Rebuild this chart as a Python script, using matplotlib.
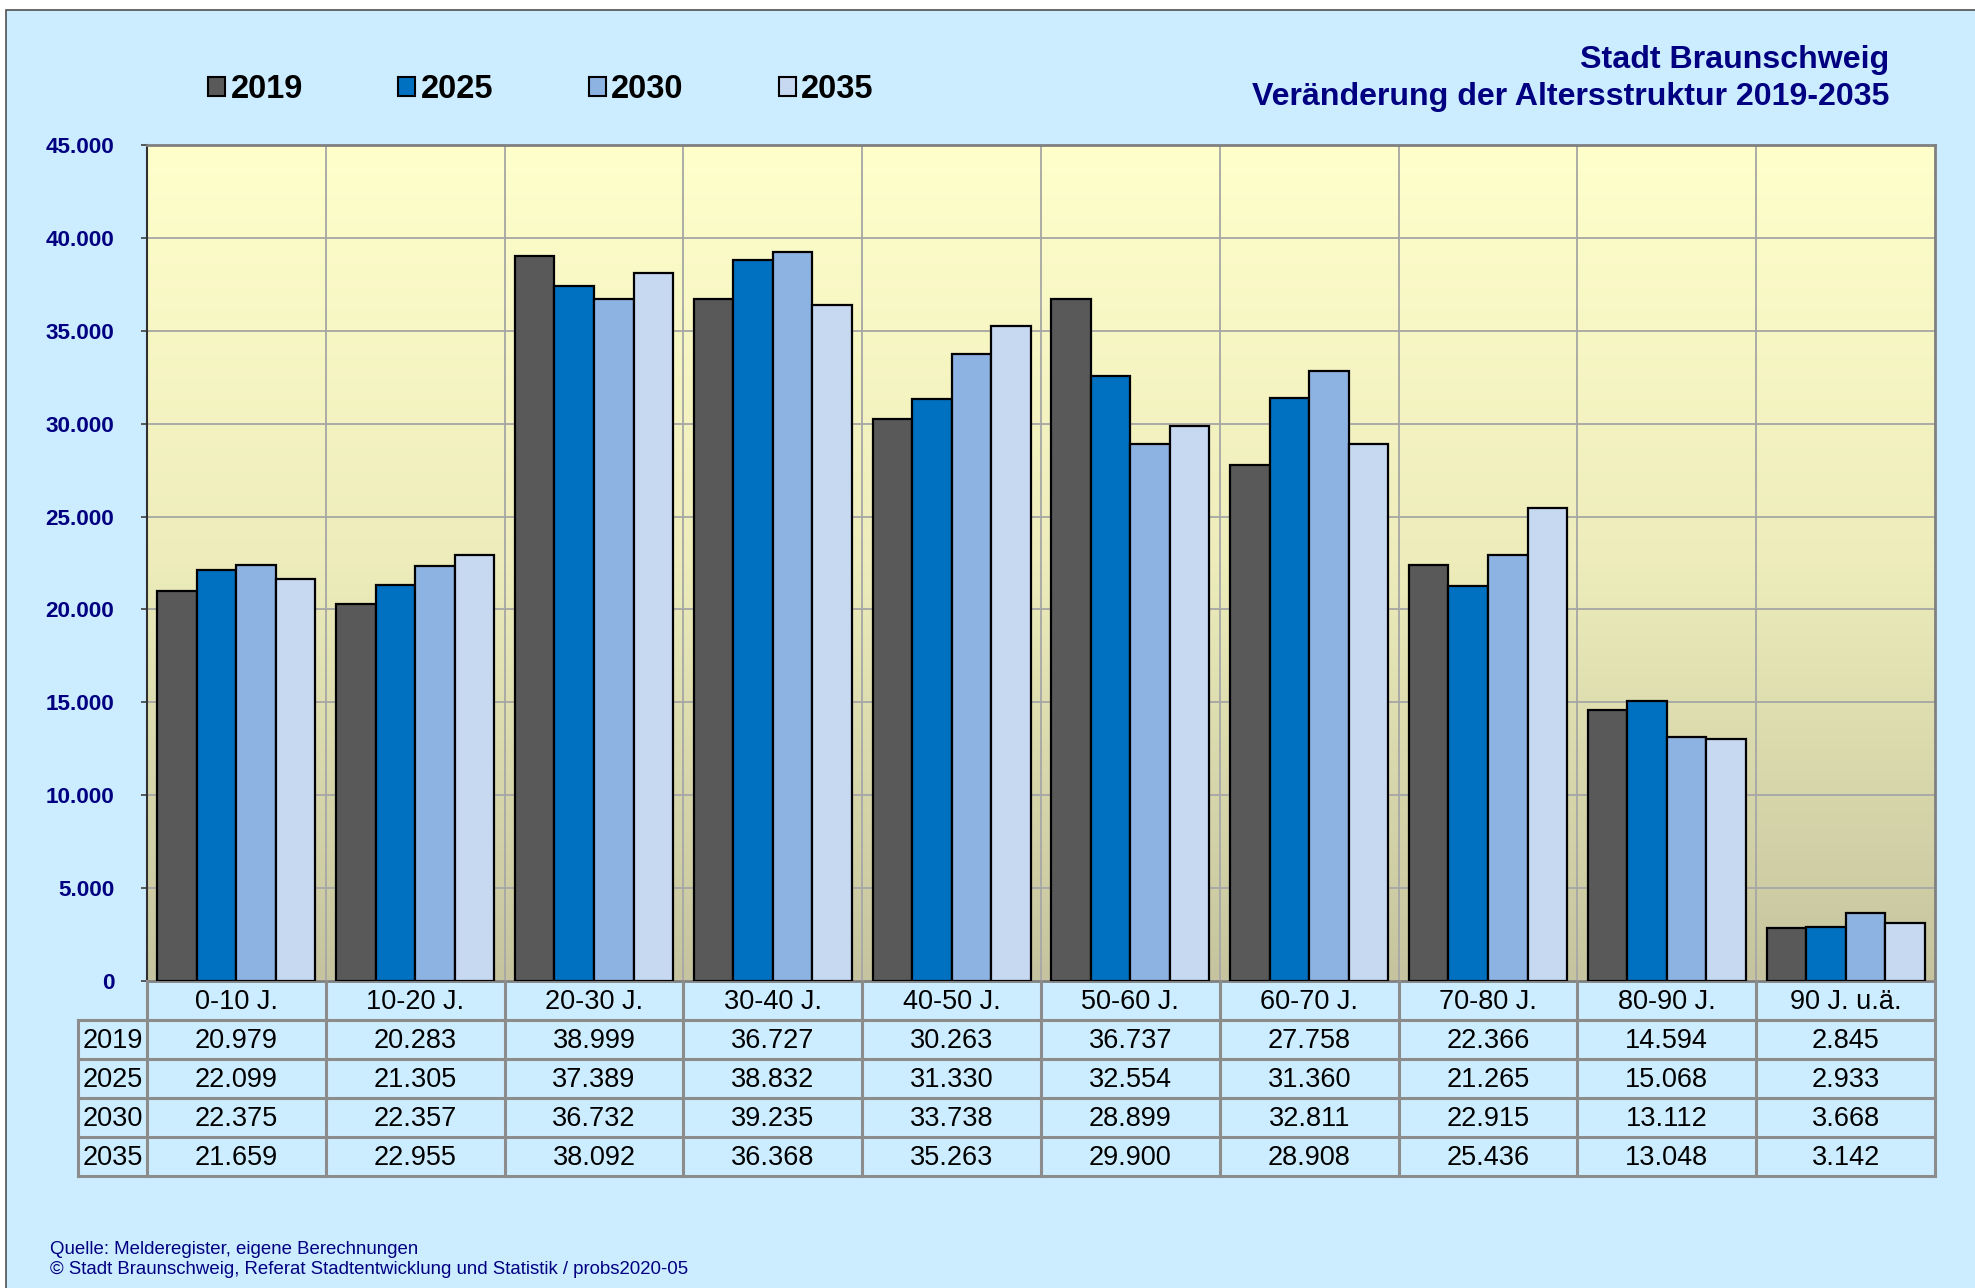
import matplotlib
matplotlib.use('Agg')
import matplotlib.pyplot as plt
import numpy as np
from matplotlib.colors import LinearSegmentedColormap
from matplotlib.patches import Patch, Rectangle
from matplotlib.ticker import FuncFormatter

plt.rcParams['font.family'] = ['Liberation Sans', 'DejaVu Sans']

# ---------------- data ----------------
categories = ['0-10 J.', '10-20 J.', '20-30 J.', '30-40 J.', '40-50 J.',
              '50-60 J.', '60-70 J.', '70-80 J.', '80-90 J.', '90 J. u.ä.']
years = ['2019', '2025', '2030', '2035']
v2019 = [20979, 20283, 38999, 36727, 30263, 36737, 27758, 22366, 14594, 2845]
v2025 = [22099, 21305, 37389, 38832, 31330, 32554, 31360, 21265, 15068, 2933]
v2030 = [22375, 22357, 36732, 39235, 33738, 28899, 32811, 22915, 13112, 3668]
v2035 = [21659, 22955, 38092, 36368, 35263, 29900, 28908, 25436, 13048, 3142]
series = [v2019, v2025, v2030, v2035]
yticks = [0, 5000, 10000, 15000, 20000, 25000, 30000, 35000, 40000, 45000]

title1 = 'Stadt Braunschweig'
title2 = 'Veränderung der Altersstruktur 2019-2035'
footer1 = 'Quelle: Melderegister, eigene Berechnungen'
footer2 = '© Stadt Braunschweig, Referat Stadtentwicklung und Statistik / probs2020-05'

# ---------------- style ----------------
colors = ['#595959', '#0070C0', '#8DB3E2', '#C6D9F1']
navy = '#000080'
bg = '#CCECFF'
gridc = '#A6A6A6'
tablec = '#8C8C8C'

W, H = 1975, 1288
fig = plt.figure(figsize=(W / 100, H / 100), dpi=100, facecolor='white')
fig.patches.append(Rectangle((6 / W, -0.05), 1.1, 1.05 - 10 / H, transform=fig.transFigure,
                             facecolor=bg, edgecolor='#505050', lw=1.2, zorder=-10))

# main axes
ax = fig.add_axes([147 / W, 1 - 981 / H, 1788 / W, 836 / H])
n = len(categories)
cmap = LinearSegmentedColormap.from_list('bgc', [(0.0, '#C5C49E'), (0.5, '#EDECBA'), (1.0, '#FFFFCC')])
grad = np.linspace(0, 1, 256).reshape(-1, 1)
ax.imshow(grad, extent=[-0.5, n - 0.5, 0, 45000], aspect='auto', cmap=cmap,
          origin='lower', zorder=0, interpolation='bilinear')
ax.set_xlim(-0.5, n - 0.5)
ax.set_ylim(0, 45000)

for yv in yticks[1:-1]:
    ax.axhline(yv, color=gridc, lw=1.3, zorder=1)
ax.vlines(np.arange(0.5, n - 0.5, 1), 0, 45000, color=gridc, lw=1.3, zorder=1)

x = np.arange(n)
w = 0.221
for i, (vals, c, yr) in enumerate(zip(series, colors, years)):
    ax.bar(x + (i - 1.5) * w, vals, width=w, color=c, edgecolor='black',
           linewidth=1.6, zorder=3, label=yr)

ax.set_xticks([])
ax.set_yticks(yticks)
ax.yaxis.set_major_formatter(FuncFormatter(lambda v, p: f'{int(v):,}'.replace(',', '.')))
ax.tick_params(axis='y', direction='out', length=4.5, width=1.2, color='#404040',
               pad=19, labelsize=16.2, labelcolor=navy)
for lab in ax.get_yticklabels():
    lab.set_fontweight('bold')
ax.spines['left'].set_color('#303030')
ax.spines['left'].set_linewidth(1.5)
for s in ['top', 'right', 'bottom']:
    ax.spines[s].set_color('#808080')
    ax.spines[s].set_linewidth(2)

# table axes
ax_t = fig.add_axes([147 / W, 1 - 1176 / H, 1788 / W, 195 / H])
ax_t.set_xlim(-0.5, n - 0.5)
ax_t.set_ylim(5, 0)
ax_t.axis('off')
xl = -0.5 - 69 / 178.8
lkw = dict(color=tablec, lw=2.2, clip_on=False, solid_capstyle='projecting')
for r in range(1, 6):
    ax_t.plot([xl, n - 0.5], [r, r], **lkw)
ax_t.plot([xl, xl], [1, 5], **lkw)
for b in np.arange(-0.5, n, 1):
    ax_t.plot([b, b], [0, 5], **lkw)
for i, cat in enumerate(categories):
    ax_t.text(i, 0.55, cat, ha='center', va='center', fontsize=19.5, color='black')
for r, (yr, vals) in enumerate(zip(years, series)):
    ax_t.text((xl - 0.5) / 2, r + 1.55, yr, ha='center', va='center', fontsize=19.5,
              color='black', clip_on=False)
    for i, v in enumerate(vals):
        ax_t.text(i, r + 1.55, f'{v:,}'.replace(',', '.'), ha='center', va='center',
                  fontsize=19.5, color='black')

# legend
handles = [Patch(facecolor=c, edgecolor='black', linewidth=1.5, label=yr)
           for c, yr in zip(colors, years)]
fig.legend(handles=handles, loc='center left', bbox_to_anchor=(208 / W, 1 - 90 / H),
           ncol=4, frameon=False, prop={'weight': 'bold', 'size': 23.5},
           handlelength=0.52, handleheight=0.52, handletextpad=0.17,
           columnspacing=2.92, borderpad=0, borderaxespad=0)

# titles
fig.text(1889 / W, 1 - 60 / H, title1, ha='right', va='center', fontsize=23.1,
         fontweight='bold', color=navy)
fig.text(1889 / W, 1 - 97 / H, title2, ha='right', va='center', fontsize=23.1,
         fontweight='bold', color=navy)

# footer
fig.text(50 / W, 1 - 1249 / H, footer1, ha='left', va='center', fontsize=13.4, color=navy)
fig.text(50 / W, 1 - 1270 / H, footer2, ha='left', va='center', fontsize=13.4, color=navy)

fig.savefig('out.png', dpi=100, facecolor=fig.get_facecolor())
